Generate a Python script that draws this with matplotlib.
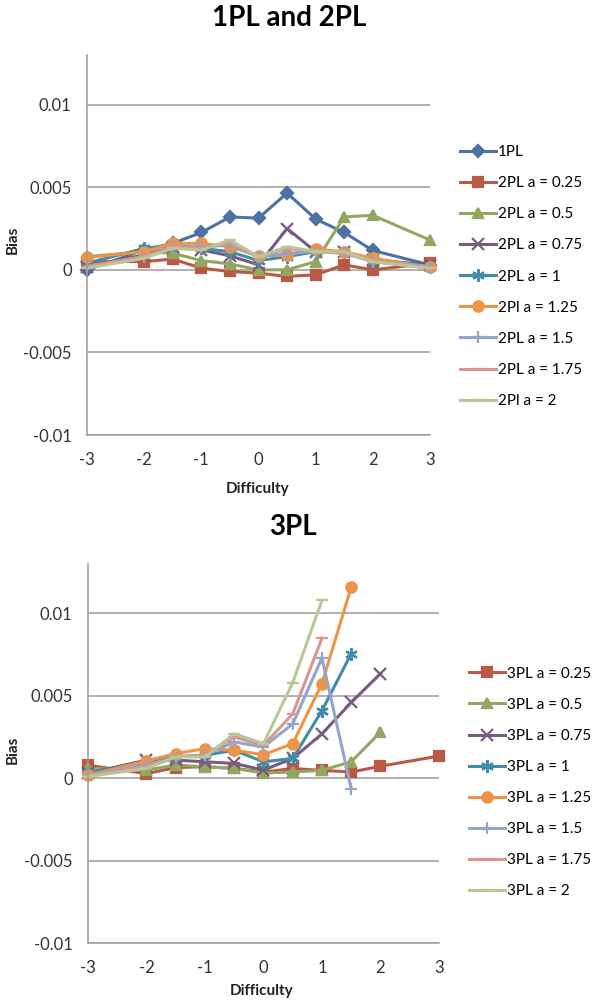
import numpy as np
import matplotlib
matplotlib.use('Agg')
import matplotlib.pyplot as plt

plt.rcParams['font.family'] = ['Lato', 'DejaVu Sans']

difficulty = [-3, -2, -1.5, -1, -0.5, 0, 0.5, 1, 1.5, 2, 3]
nan = np.nan

# 1PL and 2PL
labels_top = ['1PL', '2PL a = 0.25', '2PL a = 0.5', '2PL a = 0.75', '2PL a = 1',
              '2Pl a = 1.25', '2PL a = 1.5', '2PL a = 1.75', '2Pl a = 2']
bias_1pl = [0.0000, 0.0012, 0.0016, 0.00226, 0.0032, 0.00313, 0.00465, 0.00307, 0.00226, 0.00117, 0.0003]
bias_2pl_025 = [0.0005, 0.0005, 0.00065, 0.0001, -0.0001, -0.0002, -0.0004, -0.0003, 0.0003, 0.0000, 0.0004]
bias_2pl_05 = [0.0008, 0.0011, 0.0010, 0.00056, 0.00036, 0.0000, 0.0000, 0.0005, 0.0032, 0.0033, 0.0018]
bias_2pl_075 = [0.0002, 0.0009, 0.0014, 0.0012, 0.00085, 0.0003, 0.0025, 0.0011, 0.0011, 0.0006, 0.0003]
bias_2pl_1 = [0.0004, 0.0013, 0.0015, 0.0013, 0.0011, 0.00056, 0.0008, 0.0011, 0.0011, 0.0005, 0.0002]
bias_2pl_125 = [0.00075, 0.0011, 0.0016, 0.0016, 0.0014, 0.00085, 0.0009, 0.00125, 0.0011, 0.0007, 0.00016]
bias_2pl_15 = [0.0002, 0.0008, 0.0014, 0.0014, 0.0015, 0.0008, 0.0010, 0.0011, 0.0011, 0.0005, 0.0002]
bias_2pl_175 = [0.0002, 0.0008, 0.0014, 0.0013, 0.0016, 0.0008, 0.0013, 0.0011, 0.0010, 0.0005, 0.0001]
bias_2pl_2 = [0.0001, 0.0007, 0.0013, 0.0012, 0.0018, 0.0008, 0.0014, 0.0011, 0.0011, 0.0005, 0.0001]
series_top = [bias_1pl, bias_2pl_025, bias_2pl_05, bias_2pl_075, bias_2pl_1,
              bias_2pl_125, bias_2pl_15, bias_2pl_175, bias_2pl_2]

# 3PL
labels_bot = ['3PL a = 0.25', '3PL a = 0.5', '3PL a = 0.75', '3PL a = 1',
              '3PL a = 1.25', '3PL a = 1.5', '3PL a = 1.75', '3PL a = 2']
bias_3pl_025 = [0.00079, 0.00028, 0.00065, 0.0007, 0.0006, 0.00038, 0.00059, 0.00048, 0.00038, 0.00073, 0.00135]
bias_3pl_05 = [0.0006, 0.0005, 0.0008, 0.0007, 0.0006, 0.00032, 0.00038, 0.00048, 0.0010, 0.0028, nan]
bias_3pl_075 = [0.0003, 0.0011, 0.0011, 0.0010, 0.0009, 0.0005, 0.0012, 0.0027, 0.0046, 0.00635, nan]
bias_3pl_1 = [0.0003, 0.0010, 0.0013, 0.0014, 0.0017, 0.0010, 0.0012, 0.0041, 0.00756, nan, nan]
bias_3pl_125 = [0.00018, 0.00105, 0.0015, 0.0018, 0.0017, 0.00143, 0.0021, 0.00574, 0.0116, nan, nan]
bias_3pl_15 = [0.0002, 0.0008, 0.0013, 0.0014, 0.0022, 0.0019, 0.0033, 0.0073, -0.00063, nan, nan]
bias_3pl_175 = [0.0002, 0.0007, 0.0013, 0.0014, 0.0025, 0.0020, 0.0039, 0.0085, nan, nan, nan]
bias_3pl_2 = [0.0001, 0.0006, 0.0013, 0.0013, 0.0027, 0.0021, 0.0058, 0.0108, nan, nan, nan]
series_bot = [bias_3pl_025, bias_3pl_05, bias_3pl_075, bias_3pl_1,
              bias_3pl_125, bias_3pl_15, bias_3pl_175, bias_3pl_2]

colors = ['#4D71A3', '#BA5A45', '#94A761', '#785B82', '#3F8CAB',
          '#EE9447', '#95A4CC', '#D9968F', '#B8C796']
markers = ['D', 's', '^', 'x', (6, 2, 0), 'o', '+', '_', '_']
msizes = [6.5, 7.5, 7.5, 8, 9, 7.5, 9, 8, 8]

fig = plt.figure(figsize=(5.94, 10.01), dpi=100)
ax1 = fig.add_axes([0.1465, 0.5654, 0.5774, 0.3796])
ax2 = fig.add_axes([0.148, 0.0579, 0.591, 0.3786])


def style_axes(ax):
    ax.set_xlim(-3, 3)
    ax.set_ylim(-0.01, 0.013)
    ax.set_xticks([-3, -2, -1, 0, 1, 2, 3])
    ax.set_xticklabels(['-3', '-2', '-1', '0', '1', '2', '3'])
    ax.set_yticks([-0.01, -0.005, 0, 0.005, 0.01])
    ax.set_yticklabels(['-0.01', '-0.005', '0', '0.005', '0.01'])
    ax.yaxis.grid(True, color='#A09A9A', linewidth=1.1)
    ax.set_axisbelow(True)
    for s in ['top', 'right']:
        ax.spines[s].set_visible(False)
    for s in ['left', 'bottom']:
        ax.spines[s].set_color('#A09A9A')
        ax.spines[s].set_linewidth(1.1)
    ax.tick_params(length=0, labelsize=12, colors='#333333')
    ax.tick_params(axis='y', pad=11)
    ax.tick_params(axis='x', pad=12)


for i, (vals, lab) in enumerate(zip(series_top, labels_top)):
    ax1.plot(difficulty, vals, color=colors[i], marker=markers[i], markersize=msizes[i],
             markeredgewidth=1.6, linewidth=2.2, label=lab, clip_on=False)
for i, (vals, lab) in enumerate(zip(series_bot, labels_bot)):
    j = i + 1
    ax2.plot(difficulty, vals, color=colors[j], marker=markers[j], markersize=msizes[j],
             markeredgewidth=1.6, linewidth=2.2, label=lab, clip_on=False)

style_axes(ax1)
style_axes(ax2)

ax1.legend(loc='upper left', bbox_to_anchor=(0.774, 0.855), bbox_transform=fig.transFigure,
           frameon=False, fontsize=11, labelspacing=1.12, handlelength=2.4,
           handletextpad=0.12, borderpad=0, borderaxespad=0)
ax2.legend(loc='upper left', bbox_to_anchor=(0.789, 0.334), bbox_transform=fig.transFigure,
           frameon=False, fontsize=11, labelspacing=1.12, handlelength=2.4,
           handletextpad=0.08, borderpad=0, borderaxespad=0)

fig.text(0.4865, 0.982, '1PL and 2PL', ha='center', va='center', fontsize=20, fontweight='bold')
fig.text(0.493, 0.4735, '3PL', ha='center', va='center', fontsize=20, fontweight='bold')
fig.text(0.021, (1001 - 240) / 1001, 'Bias', rotation=90, ha='center', va='center',
         fontsize=11, fontweight='bold', color='#222222')
fig.text(0.021, (1001 - 750) / 1001, 'Bias', rotation=90, ha='center', va='center',
         fontsize=11, fontweight='bold', color='#222222')
fig.text(258 / 594, (1001 - 489) / 1001, 'Difficulty', ha='center', va='center',
         fontsize=11, fontweight='bold', color='#222222')
fig.text(262 / 594, (1001 - 991) / 1001, 'Difficulty', ha='center', va='center',
         fontsize=11, fontweight='bold', color='#222222')

fig.savefig('out.png', dpi=100)
